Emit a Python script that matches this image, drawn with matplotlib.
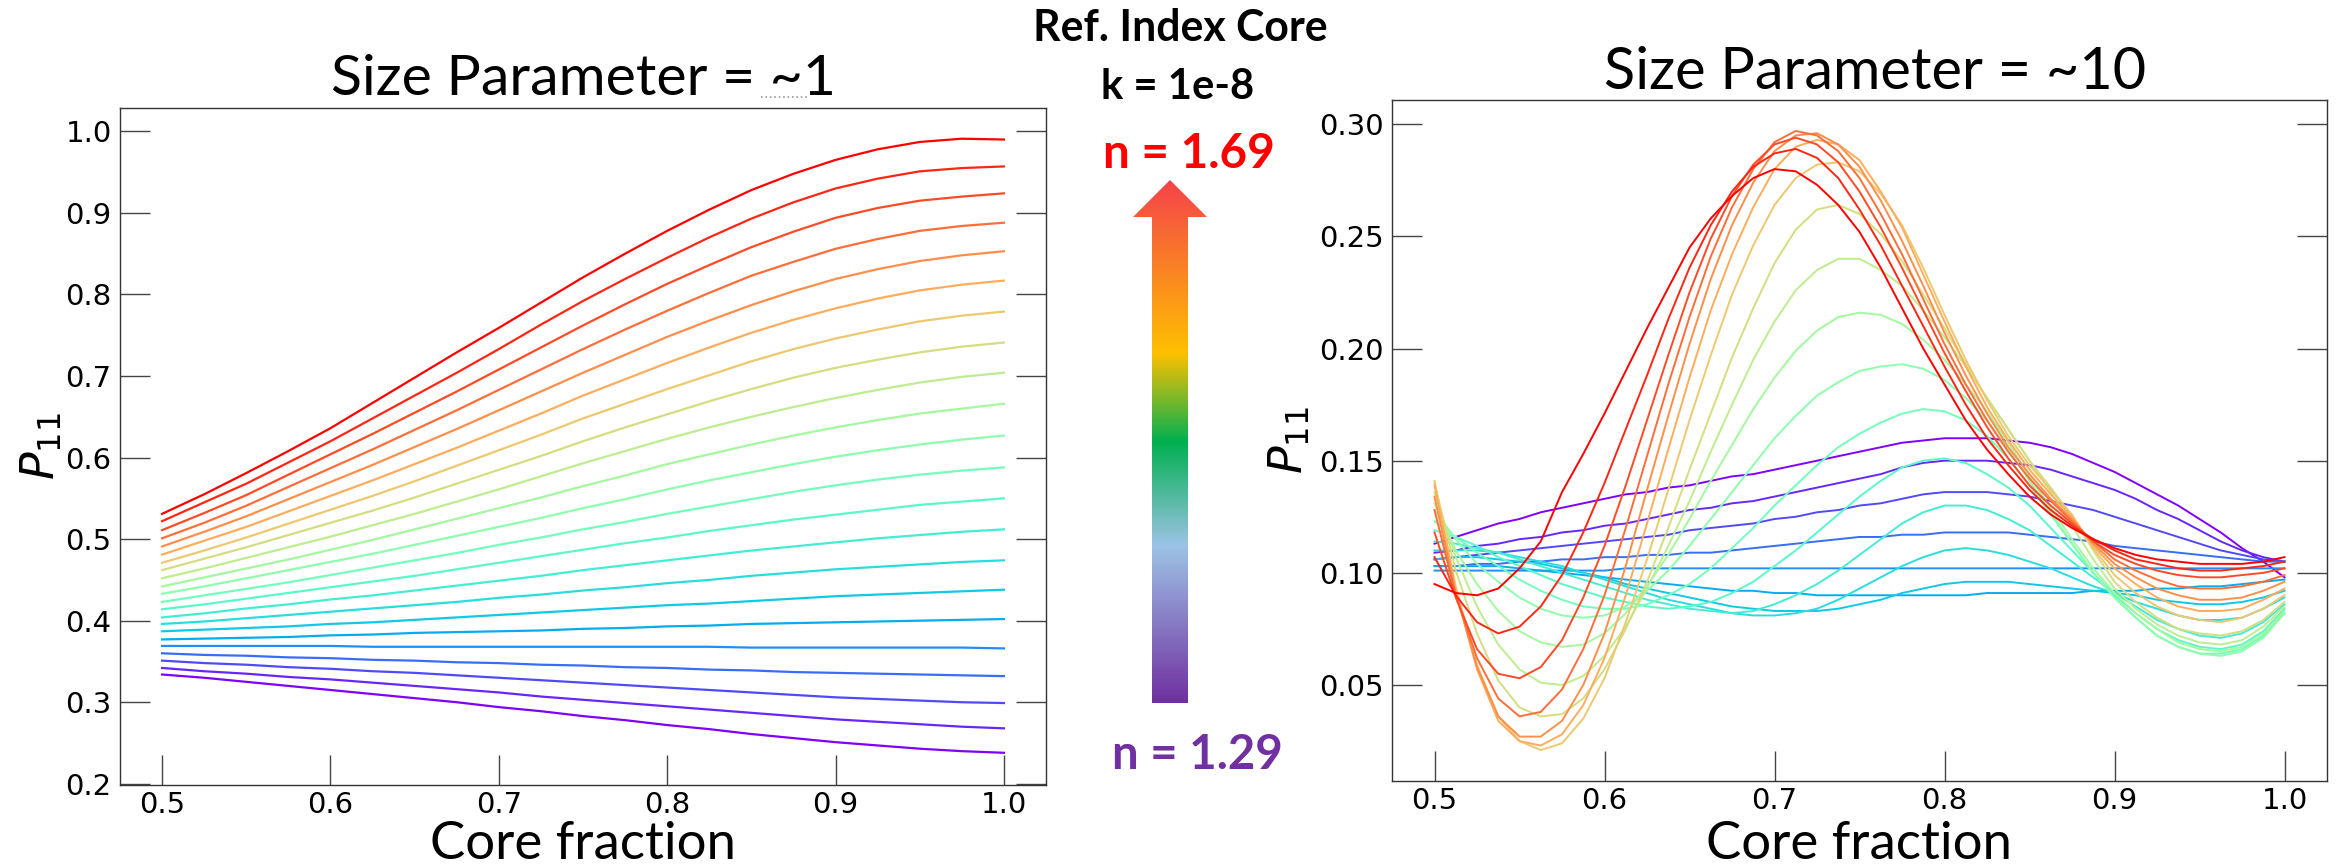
import matplotlib
matplotlib.use("Agg")
import matplotlib.pyplot as plt
import numpy as np
from matplotlib.colors import LinearSegmentedColormap
from matplotlib.patches import FancyArrow
from matplotlib.lines import Line2D

# ---------------- data ----------------
titles = ["Size Parameter = ~1", "Size Parameter = ~10"]
x_label = "Core fraction"
y_label = r"$P_{11}$"
x_ticks = [0.5, 0.6, 0.7, 0.8, 0.9, 1.0]

# Size parameter ~1 : one row per core refractive index (n = 1.29 -> 1.69)
core_frac_size1 = [0.5, 0.525, 0.55, 0.575, 0.6, 0.625, 0.65, 0.675, 0.7, 0.725, 0.75,
                   0.775, 0.8, 0.825, 0.85, 0.875, 0.9, 0.925, 0.95, 0.975, 1.0]
p11_size1 = [
    [0.334, 0.330, 0.325, 0.320, 0.315, 0.310, 0.305, 0.300, 0.294, 0.289, 0.283, 0.278, 0.272, 0.267, 0.261, 0.256, 0.251, 0.247, 0.243, 0.240, 0.238],
    [0.342, 0.338, 0.335, 0.331, 0.328, 0.324, 0.320, 0.316, 0.312, 0.307, 0.303, 0.299, 0.295, 0.291, 0.287, 0.283, 0.279, 0.276, 0.273, 0.270, 0.268],
    [0.351, 0.348, 0.346, 0.343, 0.341, 0.338, 0.336, 0.333, 0.330, 0.327, 0.324, 0.321, 0.318, 0.315, 0.312, 0.309, 0.306, 0.304, 0.302, 0.300, 0.299],
    [0.360, 0.358, 0.357, 0.355, 0.354, 0.352, 0.351, 0.349, 0.348, 0.346, 0.345, 0.343, 0.342, 0.340, 0.339, 0.337, 0.336, 0.335, 0.334, 0.333, 0.332],
    [0.369, 0.369, 0.369, 0.369, 0.369, 0.368, 0.368, 0.368, 0.368, 0.368, 0.368, 0.368, 0.368, 0.368, 0.367, 0.367, 0.367, 0.367, 0.367, 0.367, 0.366],
    [0.377, 0.378, 0.379, 0.380, 0.382, 0.383, 0.385, 0.386, 0.387, 0.388, 0.390, 0.391, 0.393, 0.394, 0.396, 0.397, 0.398, 0.399, 0.400, 0.401, 0.402],
    [0.387, 0.389, 0.391, 0.393, 0.396, 0.398, 0.401, 0.404, 0.407, 0.410, 0.413, 0.416, 0.419, 0.421, 0.424, 0.427, 0.430, 0.432, 0.434, 0.436, 0.438],
    [0.396, 0.399, 0.403, 0.407, 0.411, 0.415, 0.419, 0.423, 0.428, 0.432, 0.437, 0.441, 0.446, 0.450, 0.455, 0.459, 0.463, 0.466, 0.469, 0.472, 0.474],
    [0.404, 0.409, 0.415, 0.420, 0.426, 0.431, 0.437, 0.443, 0.449, 0.455, 0.462, 0.468, 0.474, 0.480, 0.486, 0.491, 0.496, 0.501, 0.505, 0.509, 0.512],
    [0.414, 0.420, 0.427, 0.434, 0.441, 0.448, 0.455, 0.463, 0.471, 0.479, 0.487, 0.495, 0.502, 0.510, 0.517, 0.524, 0.530, 0.536, 0.542, 0.546, 0.550],
    [0.423, 0.431, 0.439, 0.447, 0.456, 0.465, 0.474, 0.483, 0.493, 0.502, 0.512, 0.521, 0.531, 0.540, 0.549, 0.558, 0.566, 0.573, 0.579, 0.584, 0.588],
    [0.433, 0.442, 0.452, 0.462, 0.472, 0.482, 0.493, 0.504, 0.515, 0.526, 0.538, 0.549, 0.561, 0.572, 0.582, 0.592, 0.601, 0.609, 0.616, 0.622, 0.627],
    [0.442, 0.453, 0.464, 0.475, 0.487, 0.499, 0.512, 0.525, 0.538, 0.551, 0.565, 0.578, 0.592, 0.604, 0.616, 0.627, 0.637, 0.646, 0.654, 0.660, 0.666],
    [0.452, 0.464, 0.477, 0.490, 0.503, 0.517, 0.531, 0.546, 0.561, 0.577, 0.593, 0.608, 0.623, 0.637, 0.650, 0.662, 0.673, 0.683, 0.692, 0.699, 0.704],
    [0.462, 0.476, 0.490, 0.505, 0.520, 0.535, 0.551, 0.568, 0.585, 0.602, 0.620, 0.637, 0.653, 0.669, 0.684, 0.698, 0.710, 0.720, 0.729, 0.736, 0.741],
    [0.471, 0.486, 0.502, 0.519, 0.536, 0.553, 0.571, 0.590, 0.609, 0.628, 0.648, 0.666, 0.684, 0.701, 0.718, 0.733, 0.746, 0.757, 0.767, 0.774, 0.779],
    [0.481, 0.498, 0.515, 0.534, 0.553, 0.572, 0.592, 0.612, 0.633, 0.654, 0.676, 0.696, 0.716, 0.735, 0.753, 0.769, 0.783, 0.795, 0.805, 0.812, 0.817],
    [0.491, 0.509, 0.528, 0.549, 0.570, 0.591, 0.613, 0.635, 0.658, 0.681, 0.704, 0.726, 0.748, 0.768, 0.787, 0.804, 0.819, 0.831, 0.841, 0.848, 0.853],
    [0.501, 0.520, 0.541, 0.564, 0.587, 0.610, 0.634, 0.658, 0.683, 0.708, 0.733, 0.757, 0.780, 0.802, 0.823, 0.840, 0.856, 0.868, 0.878, 0.884, 0.888],
    [0.511, 0.532, 0.554, 0.579, 0.604, 0.629, 0.655, 0.681, 0.708, 0.735, 0.762, 0.788, 0.813, 0.836, 0.858, 0.877, 0.894, 0.906, 0.915, 0.920, 0.924],
    [0.522, 0.545, 0.568, 0.594, 0.620, 0.648, 0.676, 0.704, 0.733, 0.763, 0.792, 0.819, 0.845, 0.870, 0.893, 0.913, 0.930, 0.942, 0.951, 0.955, 0.957],
    [0.531, 0.555, 0.581, 0.608, 0.636, 0.667, 0.698, 0.729, 0.759, 0.790, 0.821, 0.850, 0.878, 0.904, 0.928, 0.948, 0.965, 0.978, 0.987, 0.991, 0.990],
]

# Size parameter ~10
core_frac_size10 = [0.5, 0.5125, 0.525, 0.5375, 0.55, 0.5625, 0.575, 0.5875, 0.6, 0.6125,
                    0.625, 0.6375, 0.65, 0.6625, 0.675, 0.6875, 0.7, 0.7125, 0.725, 0.7375,
                    0.75, 0.7625, 0.775, 0.7875, 0.8, 0.8125, 0.825, 0.8375, 0.85, 0.8625,
                    0.875, 0.8875, 0.9, 0.9125, 0.925, 0.9375, 0.95, 0.9625, 0.975, 0.9875, 1.0]
p11_size10 = [
    [0.113, 0.116, 0.119, 0.122, 0.124, 0.127, 0.129, 0.131, 0.133, 0.135,
     0.136, 0.138, 0.139, 0.141, 0.143, 0.144, 0.146, 0.148, 0.150, 0.152,
     0.154, 0.156, 0.158, 0.159, 0.160, 0.160, 0.160, 0.159, 0.158, 0.156,
     0.153, 0.149, 0.145, 0.140, 0.135, 0.130, 0.124, 0.118, 0.111, 0.105, 0.098],
    [0.109, 0.110, 0.112, 0.113, 0.115, 0.116, 0.118, 0.119, 0.121, 0.122,
     0.124, 0.126, 0.128, 0.129, 0.131, 0.132, 0.134, 0.136, 0.138, 0.140,
     0.142, 0.144, 0.147, 0.149, 0.150, 0.150, 0.150, 0.149, 0.148, 0.146,
     0.143, 0.140, 0.137, 0.133, 0.128, 0.124, 0.119, 0.114, 0.110, 0.107, 0.105],
    [0.106, 0.107, 0.108, 0.109, 0.110, 0.111, 0.112, 0.113, 0.114, 0.115,
     0.116, 0.117, 0.119, 0.120, 0.121, 0.122, 0.124, 0.125, 0.127, 0.128,
     0.130, 0.131, 0.133, 0.135, 0.136, 0.136, 0.136, 0.135, 0.134, 0.132,
     0.130, 0.128, 0.125, 0.122, 0.119, 0.116, 0.113, 0.110, 0.108, 0.106, 0.105],
    [0.103, 0.103, 0.104, 0.104, 0.105, 0.105, 0.106, 0.106, 0.107, 0.107,
     0.108, 0.108, 0.109, 0.109, 0.110, 0.111, 0.112, 0.113, 0.114, 0.115,
     0.116, 0.116, 0.117, 0.117, 0.118, 0.118, 0.118, 0.118, 0.117, 0.116,
     0.115, 0.114, 0.112, 0.111, 0.110, 0.109, 0.108, 0.107, 0.106, 0.105, 0.105],
    [0.101, 0.101, 0.101, 0.101, 0.101, 0.101, 0.101, 0.101, 0.101, 0.102,
     0.102, 0.102, 0.102, 0.102, 0.102, 0.102, 0.102, 0.102, 0.102, 0.102,
     0.102, 0.102, 0.102, 0.102, 0.102, 0.102, 0.102, 0.102, 0.102, 0.102,
     0.102, 0.102, 0.102, 0.102, 0.102, 0.102, 0.102, 0.102, 0.102, 0.102, 0.102],
    [0.103, 0.103, 0.103, 0.103, 0.102, 0.101, 0.100, 0.099, 0.098, 0.097,
     0.096, 0.095, 0.094, 0.093, 0.092, 0.092, 0.091, 0.091, 0.090, 0.090,
     0.090, 0.090, 0.090, 0.090, 0.090, 0.090, 0.091, 0.091, 0.091, 0.091,
     0.091, 0.092, 0.092, 0.092, 0.093, 0.093, 0.094, 0.094, 0.095, 0.096, 0.097],
    [0.106, 0.107, 0.107, 0.106, 0.105, 0.104, 0.102, 0.100, 0.098, 0.095,
     0.093, 0.091, 0.089, 0.087, 0.085, 0.084, 0.083, 0.083, 0.083, 0.084,
     0.086, 0.088, 0.091, 0.093, 0.095, 0.096, 0.096, 0.096, 0.095, 0.094,
     0.093, 0.092, 0.091, 0.090, 0.088, 0.087, 0.086, 0.086, 0.087, 0.089, 0.092],
    [0.110, 0.110, 0.110, 0.109, 0.107, 0.105, 0.103, 0.100, 0.097, 0.094,
     0.091, 0.088, 0.086, 0.084, 0.082, 0.081, 0.081, 0.082, 0.084, 0.088,
     0.093, 0.098, 0.103, 0.107, 0.110, 0.111, 0.110, 0.108, 0.105, 0.102,
     0.098, 0.094, 0.091, 0.087, 0.084, 0.081, 0.079, 0.079, 0.080, 0.084, 0.089],
    [0.114, 0.113, 0.111, 0.109, 0.106, 0.103, 0.100, 0.097, 0.094, 0.091,
     0.088, 0.086, 0.084, 0.083, 0.082, 0.083, 0.086, 0.090, 0.095, 0.101,
     0.108, 0.115, 0.122, 0.127, 0.130, 0.130, 0.128, 0.124, 0.119, 0.112,
     0.105, 0.098, 0.091, 0.085, 0.079, 0.075, 0.072, 0.071, 0.073, 0.078, 0.086],
    [0.119, 0.116, 0.112, 0.107, 0.103, 0.099, 0.095, 0.092, 0.089, 0.087,
     0.085, 0.084, 0.085, 0.087, 0.091, 0.096, 0.103, 0.110, 0.118, 0.126,
     0.134, 0.141, 0.147, 0.150, 0.151, 0.149, 0.144, 0.138, 0.130, 0.120,
     0.110, 0.100, 0.090, 0.082, 0.075, 0.070, 0.067, 0.066, 0.068, 0.074, 0.084],
    [0.123, 0.116, 0.109, 0.103, 0.097, 0.092, 0.088, 0.085, 0.084, 0.084,
     0.086, 0.090, 0.095, 0.102, 0.111, 0.120, 0.130, 0.139, 0.148, 0.156,
     0.162, 0.167, 0.171, 0.173, 0.172, 0.168, 0.161, 0.151, 0.139, 0.126,
     0.113, 0.100, 0.089, 0.080, 0.072, 0.067, 0.064, 0.064, 0.066, 0.072, 0.082],
    [0.128, 0.115, 0.104, 0.096, 0.089, 0.084, 0.081, 0.080, 0.081, 0.085,
     0.092, 0.101, 0.112, 0.124, 0.136, 0.148, 0.160, 0.170, 0.179, 0.185,
     0.190, 0.192, 0.193, 0.191, 0.186, 0.178, 0.168, 0.155, 0.141, 0.127,
     0.113, 0.100, 0.089, 0.080, 0.072, 0.067, 0.064, 0.063, 0.065, 0.071, 0.082],
    [0.131, 0.110, 0.095, 0.083, 0.074, 0.069, 0.067, 0.068, 0.073, 0.082,
     0.094, 0.108, 0.124, 0.141, 0.157, 0.173, 0.187, 0.199, 0.208, 0.214,
     0.216, 0.215, 0.211, 0.204, 0.195, 0.184, 0.172, 0.158, 0.143, 0.129,
     0.115, 0.102, 0.091, 0.082, 0.075, 0.069, 0.066, 0.065, 0.067, 0.073, 0.083],
    [0.136, 0.107, 0.085, 0.068, 0.057, 0.051, 0.050, 0.054, 0.063, 0.076,
     0.093, 0.112, 0.132, 0.154, 0.175, 0.195, 0.212, 0.226, 0.235, 0.240,
     0.240, 0.235, 0.228, 0.217, 0.205, 0.192, 0.178, 0.164, 0.150, 0.136,
     0.121, 0.106, 0.093, 0.084, 0.077, 0.072, 0.069, 0.068, 0.070, 0.076, 0.085],
    [0.140, 0.101, 0.073, 0.052, 0.040, 0.036, 0.037, 0.044, 0.057, 0.075,
     0.096, 0.120, 0.146, 0.171, 0.196, 0.218, 0.238, 0.253, 0.262, 0.264,
     0.260, 0.251, 0.239, 0.224, 0.209, 0.193, 0.178, 0.164, 0.150, 0.138,
     0.125, 0.110, 0.096, 0.087, 0.080, 0.075, 0.073, 0.072, 0.074, 0.079, 0.087],
    [0.141, 0.094, 0.059, 0.036, 0.025, 0.021, 0.024, 0.035, 0.053, 0.078,
     0.106, 0.137, 0.168, 0.197, 0.224, 0.246, 0.264, 0.276, 0.282, 0.283,
     0.279, 0.269, 0.255, 0.236, 0.215, 0.195, 0.177, 0.161, 0.148, 0.137,
     0.126, 0.111, 0.099, 0.091, 0.085, 0.081, 0.079, 0.078, 0.080, 0.084, 0.090],
    [0.139, 0.092, 0.057, 0.034, 0.025, 0.023, 0.028, 0.041, 0.062, 0.090,
     0.122, 0.155, 0.187, 0.217, 0.242, 0.263, 0.280, 0.290, 0.293, 0.291,
     0.284, 0.270, 0.254, 0.233, 0.212, 0.192, 0.174, 0.159, 0.146, 0.135,
     0.125, 0.112, 0.102, 0.095, 0.089, 0.085, 0.083, 0.083, 0.084, 0.088, 0.093],
    [0.134, 0.091, 0.058, 0.036, 0.027, 0.027, 0.034, 0.050, 0.073, 0.103,
     0.137, 0.170, 0.202, 0.231, 0.255, 0.274, 0.288, 0.295, 0.296, 0.291,
     0.281, 0.266, 0.248, 0.228, 0.207, 0.188, 0.171, 0.156, 0.144, 0.133,
     0.124, 0.113, 0.104, 0.098, 0.093, 0.090, 0.088, 0.088, 0.089, 0.092, 0.096],
    [0.128, 0.090, 0.062, 0.044, 0.036, 0.038, 0.048, 0.066, 0.090, 0.120,
     0.152, 0.184, 0.214, 0.241, 0.263, 0.280, 0.292, 0.297, 0.295, 0.288,
     0.276, 0.260, 0.242, 0.222, 0.202, 0.184, 0.168, 0.154, 0.142, 0.132,
     0.123, 0.114, 0.106, 0.101, 0.097, 0.094, 0.093, 0.093, 0.094, 0.096, 0.099],
    [0.118, 0.089, 0.066, 0.055, 0.053, 0.058, 0.070, 0.089, 0.112, 0.139,
     0.168, 0.197, 0.225, 0.249, 0.268, 0.282, 0.291, 0.294, 0.291, 0.283,
     0.270, 0.254, 0.236, 0.217, 0.198, 0.181, 0.165, 0.151, 0.139, 0.130,
     0.122, 0.114, 0.108, 0.104, 0.101, 0.099, 0.098, 0.098, 0.099, 0.100, 0.102],
    [0.107, 0.090, 0.078, 0.073, 0.076, 0.085, 0.099, 0.118, 0.140, 0.164,
     0.188, 0.213, 0.236, 0.255, 0.270, 0.281, 0.287, 0.289, 0.285, 0.276,
     0.262, 0.246, 0.228, 0.210, 0.192, 0.175, 0.160, 0.148, 0.137, 0.128,
     0.121, 0.115, 0.110, 0.106, 0.104, 0.102, 0.101, 0.101, 0.102, 0.103, 0.105],
    [0.095, 0.091, 0.090, 0.093, 0.102, 0.114, 0.136, 0.153, 0.171, 0.190,
     0.209, 0.227, 0.245, 0.258, 0.268, 0.276, 0.280, 0.279, 0.273, 0.264,
     0.252, 0.236, 0.218, 0.200, 0.184, 0.168, 0.155, 0.144, 0.134, 0.126,
     0.120, 0.115, 0.111, 0.108, 0.106, 0.105, 0.104, 0.104, 0.104, 0.105, 0.107],
]

legend_title = "Ref. Index Core"
k_label = "k = 1e-8"
n_high_label = "n = 1.69"
n_low_label = "n = 1.29"

# ---------------- layout helpers ----------------
W, H = 2339, 865
fig = plt.figure(figsize=(W / 100, H / 100), dpi=100)


def fx(px):
    return px / W


def fy(py):
    return 1 - py / H


ax1 = fig.add_axes([fx(120), fy(785), (1046 - 120) / W, (785 - 108) / H])
ax2 = fig.add_axes([fx(1392), fy(781), (2327 - 1392) / W, (781 - 100) / H])

cmap = plt.cm.rainbow
for k, ys in enumerate(p11_size1):
    ax1.plot(core_frac_size1, ys, color=cmap(k / (len(p11_size1) - 1)), lw=1.6)
for k, ys in enumerate(p11_size10):
    ax2.plot(core_frac_size10, ys, color=cmap(k / (len(p11_size10) - 1)), lw=1.4)

ax1.set_ylim(bottom=0.1985)

TFONT = "Lato"
for ax in (ax1, ax2):
    ax.set_xticks(x_ticks)
    ax.tick_params(axis="both", direction="in", length=21.6, width=1.0,
                   color="#444444", labelsize=21, pad=6)
    ax.tick_params(axis="x", pad=4)
    ax.tick_params(axis="y", left=True, right=True)
    ax.tick_params(axis="x", top=False, bottom=True)
    for s in ax.spines.values():
        s.set_color("#333333")
        s.set_linewidth(1.0)
    ax.set_xlabel(x_label, family=TFONT, fontsize=36)
    ax.xaxis.label.set_va("baseline")
    ax.set_ylabel(y_label, fontsize=33)
    ax.yaxis.label.set_va("center")

ax1.xaxis.set_label_coords(0.5, (785 - 859) / 677)
ax2.xaxis.set_label_coords(0.5, (781 - 859) / 681)
ax1.yaxis.set_label_coords((42 - 120) / 926, 0.5)
ax2.yaxis.set_label_coords((1290 - 1392) / 935, 0.5)

t1 = ax1.set_title(titles[0], family=TFONT, fontsize=40, x=0.5,
                   y=1 + (108 - 95) / 677, pad=0)
t2 = ax2.set_title(titles[1], family=TFONT, fontsize=40,
                   x=(1875 - 1392) / 935, y=1 + (100 - 89) / 681, pad=0)

# middle annotation
tr = fig.text(fx(1180), fy(41), legend_title, ha="center", va="baseline",
              family=TFONT, fontweight="bold", fontsize=28)
tk = fig.text(fx(1178), fy(99), k_label, ha="center", va="baseline",
              family=TFONT, fontweight="bold", fontsize=26)
th = fig.text(fx(1189), fy(168), n_high_label, ha="center", va="baseline",
              family=TFONT, fontweight="bold", fontsize=36, color="#FF0000")
tl = fig.text(fx(1197), fy(769), n_low_label, ha="center", va="baseline",
              family=TFONT, fontweight="bold", fontsize=36, color="#7030A0")

# gradient arrow
axa = fig.add_axes([fx(1133), fy(703), (1207 - 1133) / W, (703 - 180) / H])
axa.set_xlim(0, 1)
axa.set_ylim(0, 1)
axa.axis("off")
grad_cmap = LinearSegmentedColormap.from_list(
    "ppt", [(0.0, "#7030A0"), (0.30, "#9DC3E6"), (0.50, "#00B050"),
            (0.67, "#FFC000"), (1.0, "#F5424A")])
grad = np.linspace(0, 1, 256).reshape(-1, 1)
im = axa.imshow(grad, cmap=grad_cmap, origin="lower", extent=[0, 1, 0, 1],
                aspect="auto")
arrow = FancyArrow(0.5, 0.0, 0.0, 1.0, width=(1188 - 1152) / 74, head_width=1.0,
                   head_length=(217 - 180) / 523, length_includes_head=True,
                   transform=axa.transData, facecolor="none", edgecolor="none")
axa.add_patch(arrow)
im.set_clip_path(arrow)

# small dotted proofing mark under "~1"
fig.add_artist(Line2D([fx(761), fx(807)], [fy(97), fy(97)], transform=fig.transFigure,
                      color="#999999", ls=":", lw=1.2))

# fit text widths to the reference
fig.canvas.draw()
renderer = fig.canvas.get_renderer()
targets = [(t1, 505), (t2, 542), (ax1.xaxis.label, 306), (ax2.xaxis.label, 306),
           (tr, 295), (tk, 153), (th, 172), (tl, 171)]
for _ in range(2):
    for t, target in targets:
        w = t.get_window_extent(renderer).width
        t.set_fontsize(t.get_fontsize() * target / w)
    fig.canvas.draw()

fig.savefig("out.png", dpi=100)
